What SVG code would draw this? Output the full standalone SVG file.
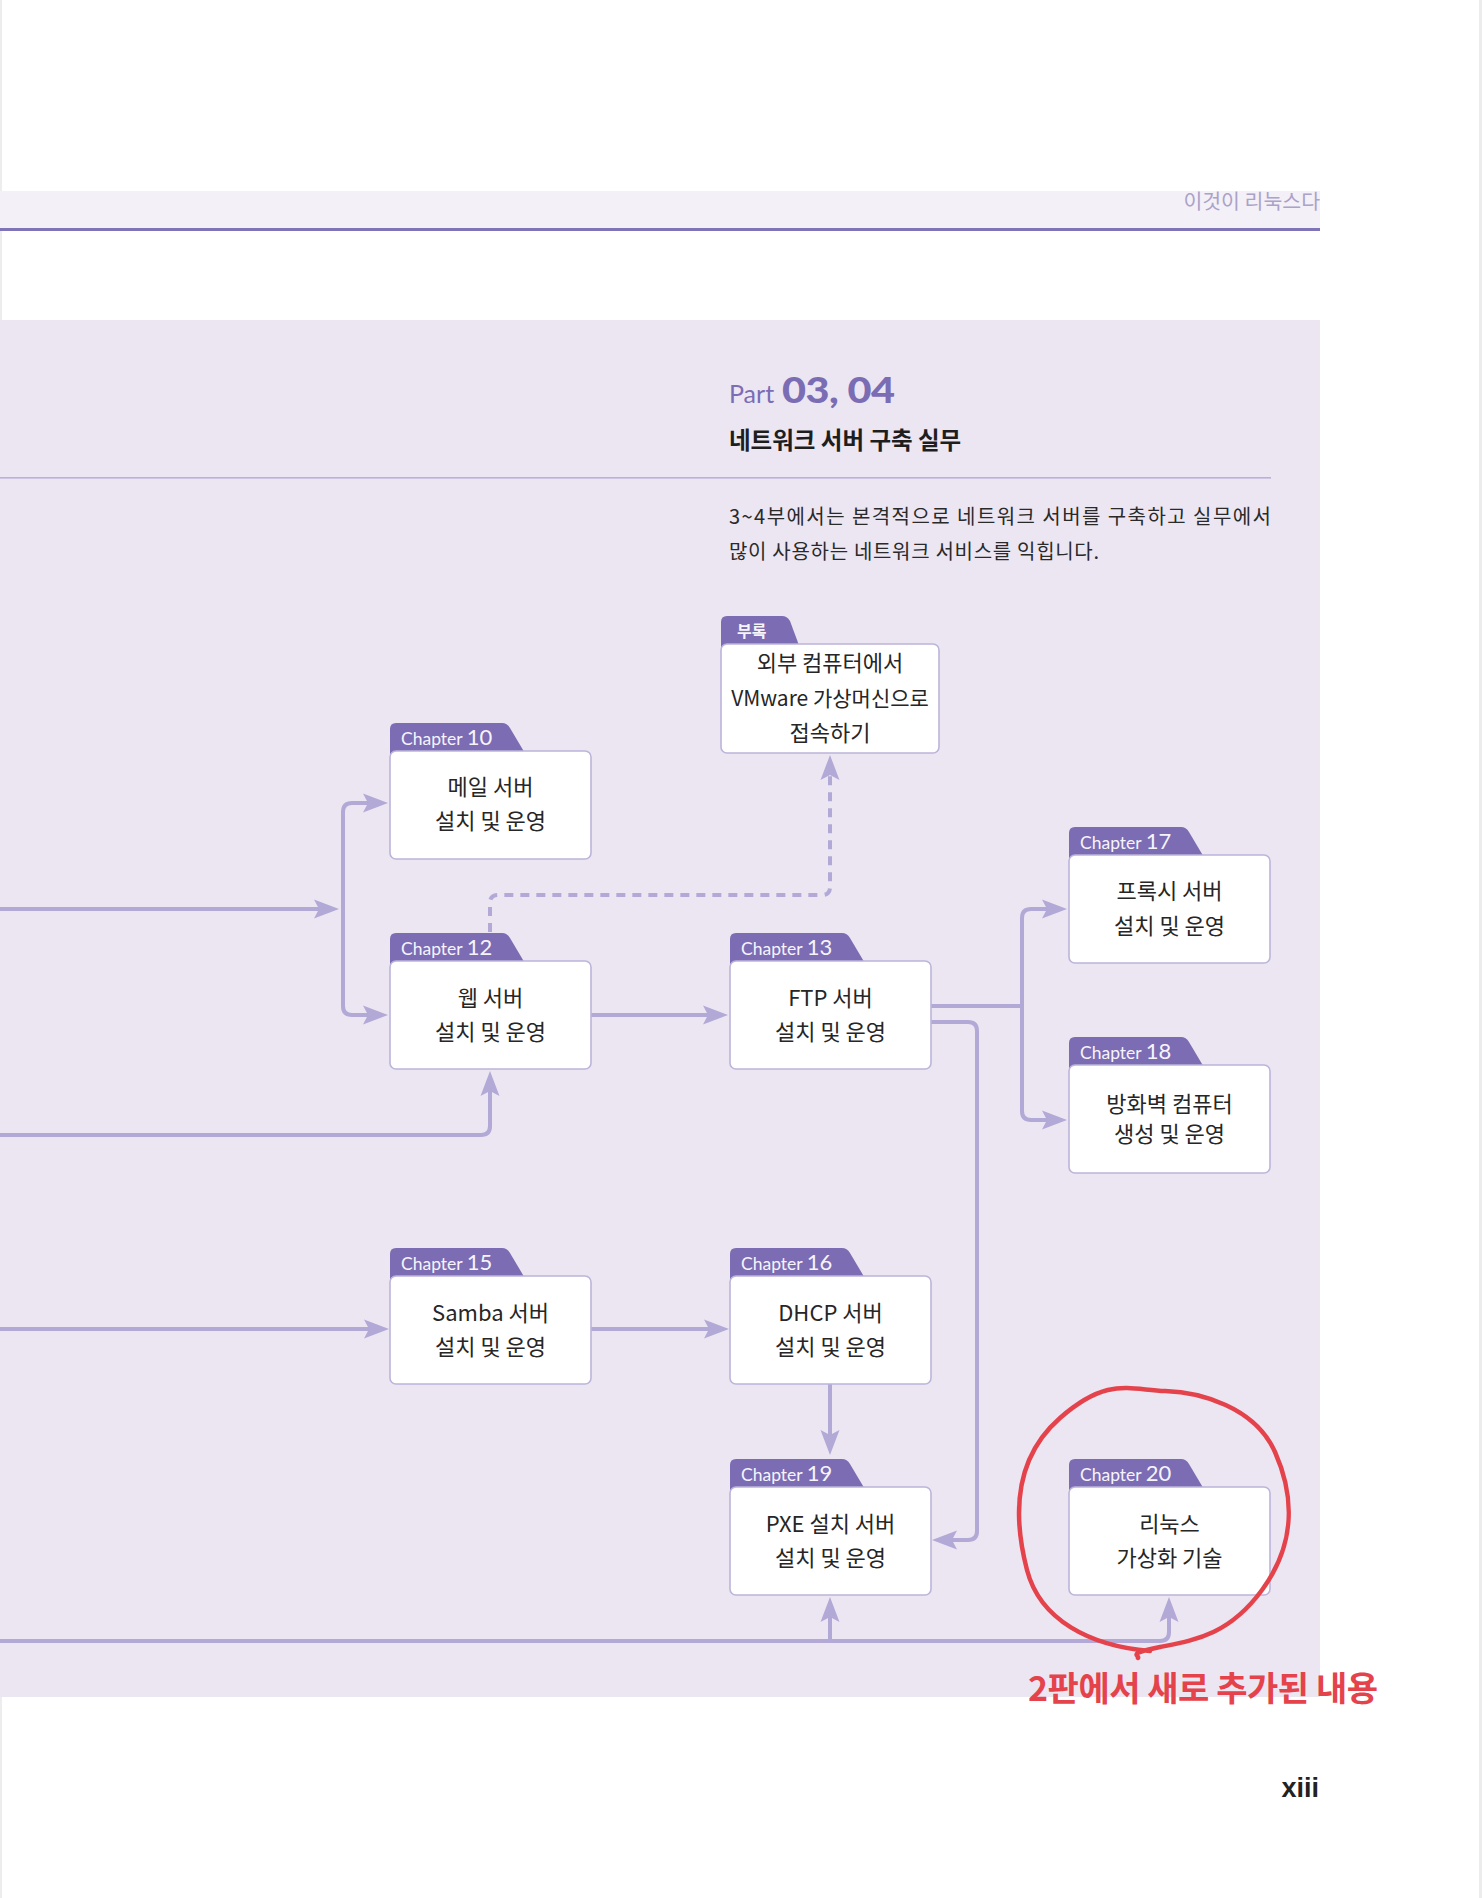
<svg xmlns="http://www.w3.org/2000/svg" xmlns:xlink="http://www.w3.org/1999/xlink" width="1482" height="1898" viewBox="0 0 1482 1898">
<style>
.box{fill:#ffffff;stroke:#bcb4da;stroke-width:1.6}
.tab{fill:#7b6cb3}
.tabt{font-family:Lato,"Noto Sans",sans-serif;fill:#f6f4fb;font-size:17.5px}
.tabn{font-size:22px}
.body{font-family:"Noto Sans CJK KR","Noto Sans",sans-serif;font-size:22px;fill:#262626;text-anchor:middle}
.con{fill:none;stroke:#b2a9d7;stroke-width:4}
.dash{stroke-dasharray:9 7}
</style>
<defs>
<marker id="arr" markerUnits="userSpaceOnUse" markerWidth="30" markerHeight="24" viewBox="-26 -12 30 24" refX="-12" refY="0" orient="auto" overflow="visible">
<path d="M0,0 L-25,-9.5 L-20,0 L-25,9.5 Z" fill="#b2a9d7"/>
</marker>
<path id="tab" d="M0,4 L0,-22 Q0,-28 6,-28 L112,-28 Q117,-28 120,-23 L136,4 Z"/>
</defs>
<rect x="0" y="0" width="1482" height="1898" fill="#ffffff"/>
<rect x="0" y="0" width="2" height="1898" fill="#ededed"/>
<rect x="1479" y="0" width="3" height="1898" fill="#ececec"/>
<!-- header -->
<rect x="0" y="191" width="1320" height="38" fill="#f4f0f7"/>
<rect x="0" y="228" width="1320" height="3" fill="#7f74b8"/>
<text x="1320" y="209" font-family="'Noto Sans CJK KR',sans-serif" font-size="20.5" fill="#aaa2c8" text-anchor="end">이것이 리눅스다</text>
<!-- panel -->
<rect x="0" y="320" width="1320" height="1377" fill="#ece6f3"/>
<text x="729" y="403" font-family="Lato,'Noto Sans',sans-serif" font-size="25" fill="#7b6db3">Part</text>
<text transform="translate(782,403) scale(1.12,1)" font-family="Lato,'Noto Sans',sans-serif" font-size="37" font-weight="900" fill="#7b6db3" letter-spacing="-0.5">03, 04</text>
<text x="729" y="449" font-family="'Noto Sans CJK KR',sans-serif" font-size="23.5" font-weight="bold" fill="#1e1e1e">네트워크 서버 구축 실무</text>
<rect x="0" y="477" width="1271" height="1.6" fill="#b9b0dc"/>
<text x="729" y="524" font-family="'Noto Sans CJK KR',sans-serif" font-size="20" fill="#2a2a2a" textLength="542" lengthAdjust="spacing">3~4부에서는 본격적으로 네트워크 서버를 구축하고 실무에서</text>
<text x="729" y="559" font-family="'Noto Sans CJK KR',sans-serif" font-size="20" fill="#2a2a2a" textLength="370" lengthAdjust="spacing">많이 사용하는 네트워크 서비스를 익힙니다.</text>
<!-- connectors -->
<g id="connectors">
<path class="con" d="M0,909 L327,909" marker-end="url(#arr)"/>
<path class="con" d="M343,909 L343,812 Q343,803 352,803 L376,803" marker-end="url(#arr)"/>
<path class="con" d="M343,909 L343,1006 Q343,1015 352,1015 L376,1015" marker-end="url(#arr)"/>
<path class="con" d="M0,1135 L481,1135 Q490,1135 490,1126 L490,1083" marker-end="url(#arr)"/>
<path class="con" d="M591,1015 L716,1015" marker-end="url(#arr)"/>
<path class="con dash" d="M490,932 L490,903 Q490,895 498,895 L822,895 Q830,895 830,887 L830,767" marker-end="url(#arr)"/>
<path class="con" d="M931,1006 L1022,1006 L1022,918 Q1022,909 1031,909 L1055,909" marker-end="url(#arr)"/>
<path class="con" d="M1022,1006 L1022,1111 Q1022,1120 1031,1120 L1055,1120" marker-end="url(#arr)"/>
<path class="con" d="M931,1022 L968,1022 Q977,1022 977,1031 L977,1531 Q977,1540 968,1540 L944,1540" marker-end="url(#arr)"/>
<path class="con" d="M0,1329 L377,1329" marker-end="url(#arr)"/>
<path class="con" d="M591,1329 L717,1329" marker-end="url(#arr)"/>
<path class="con" d="M830,1384 L830,1443" marker-end="url(#arr)"/>
<path class="con" d="M0,1641 L1160,1641 Q1169,1641 1169,1632 L1169,1609" marker-end="url(#arr)"/>
<path class="con" d="M830,1641 L830,1609" marker-end="url(#arr)"/>
</g>
<!-- nodes -->
<g id="appendix">
<path class="tab" d="M721,648 L721,622 Q721,616 727,616 L782,616 Q787,616 790,621 L800,648 Z"/>
<rect class="box" x="721" y="644" width="218" height="109" rx="6"/>
<text x="737" y="637" font-family="'Noto Sans CJK KR',sans-serif" font-size="16" font-weight="bold" fill="#f6f4fb">부록</text>
<text class="body" x="830" y="671" font-size="21">외부 컴퓨터에서</text>
<text class="body" x="830" y="706" font-size="21" style="font-size:21px">VMware 가상머신으로</text>
<text class="body" x="830" y="741">접속하기</text>
</g>
<g id="ch10">
<use href="#tab" class="tab" x="390" y="751"/>
<rect class="box" x="390" y="751" width="201" height="108" rx="6"/>
<text class="tabt" x="401" y="745">Chapter <tspan class="tabn">10</tspan></text>
<text class="body" x="490.5" y="795">메일 서버</text>
<text class="body" x="490.5" y="829">설치 및 운영</text>
</g>
<g id="ch12">
<use href="#tab" class="tab" x="390" y="961"/>
<rect class="box" x="390" y="961" width="201" height="108" rx="6"/>
<text class="tabt" x="401" y="955">Chapter <tspan class="tabn">12</tspan></text>
<text class="body" x="490.5" y="1006">웹 서버</text>
<text class="body" x="490.5" y="1040">설치 및 운영</text>
</g>
<g id="ch13">
<use href="#tab" class="tab" x="730" y="961"/>
<rect class="box" x="730" y="961" width="201" height="108" rx="6"/>
<text class="tabt" x="741" y="955">Chapter <tspan class="tabn">13</tspan></text>
<text class="body" x="830.5" y="1006">FTP 서버</text>
<text class="body" x="830.5" y="1040">설치 및 운영</text>
</g>
<g id="ch17">
<use href="#tab" class="tab" x="1069" y="855"/>
<rect class="box" x="1069" y="855" width="201" height="108" rx="6"/>
<text class="tabt" x="1080" y="849">Chapter <tspan class="tabn">17</tspan></text>
<text class="body" x="1169.5" y="899">프록시 서버</text>
<text class="body" x="1169.5" y="934">설치 및 운영</text>
</g>
<g id="ch18">
<use href="#tab" class="tab" x="1069" y="1065"/>
<rect class="box" x="1069" y="1065" width="201" height="108" rx="6"/>
<text class="tabt" x="1080" y="1059">Chapter <tspan class="tabn">18</tspan></text>
<text class="body" x="1169.5" y="1112">방화벽 컴퓨터</text>
<text class="body" x="1169.5" y="1142">생성 및 운영</text>
</g>
<g id="ch15">
<use href="#tab" class="tab" x="390" y="1276"/>
<rect class="box" x="390" y="1276" width="201" height="108" rx="6"/>
<text class="tabt" x="401" y="1270">Chapter <tspan class="tabn">15</tspan></text>
<text class="body" x="490.5" y="1321">Samba 서버</text>
<text class="body" x="490.5" y="1355">설치 및 운영</text>
</g>
<g id="ch16">
<use href="#tab" class="tab" x="730" y="1276"/>
<rect class="box" x="730" y="1276" width="201" height="108" rx="6"/>
<text class="tabt" x="741" y="1270">Chapter <tspan class="tabn">16</tspan></text>
<text class="body" x="830.5" y="1321">DHCP 서버</text>
<text class="body" x="830.5" y="1355">설치 및 운영</text>
</g>
<g id="ch19">
<use href="#tab" class="tab" x="730" y="1487"/>
<rect class="box" x="730" y="1487" width="201" height="108" rx="6"/>
<text class="tabt" x="741" y="1481">Chapter <tspan class="tabn">19</tspan></text>
<text class="body" x="830.5" y="1532">PXE 설치 서버</text>
<text class="body" x="830.5" y="1566">설치 및 운영</text>
</g>
<g id="ch20">
<use href="#tab" class="tab" x="1069" y="1487"/>
<rect class="box" x="1069" y="1487" width="201" height="108" rx="6"/>
<text class="tabt" x="1080" y="1481">Chapter <tspan class="tabn">20</tspan></text>
<text class="body" x="1169.5" y="1532">리눅스</text>
<text class="body" x="1169.5" y="1566">가상화 기술</text>
</g>
<!-- red annotation -->
<path d="M1150,1651 C1090,1646 1040,1620 1027,1570 S1012,1460 1060,1418 S1130,1390 1165,1391 S1255,1407 1275,1452 S1295,1545 1262,1590 S1195,1640 1160,1647 S1140,1655 1138,1658" fill="none" stroke="#e5434b" stroke-width="4.5" stroke-linecap="round"/>
<text x="1028" y="1701" font-family="'Noto Sans CJK KR',sans-serif" font-size="34" font-weight="bold" fill="#e5434b" textLength="350" lengthAdjust="spacing">2판에서 새로 추가된 내용</text>
<text x="1319" y="1797" font-family="'Liberation Sans',Arial,sans-serif" font-size="27" font-weight="bold" fill="#222222" text-anchor="end">xiii</text>
</svg>
